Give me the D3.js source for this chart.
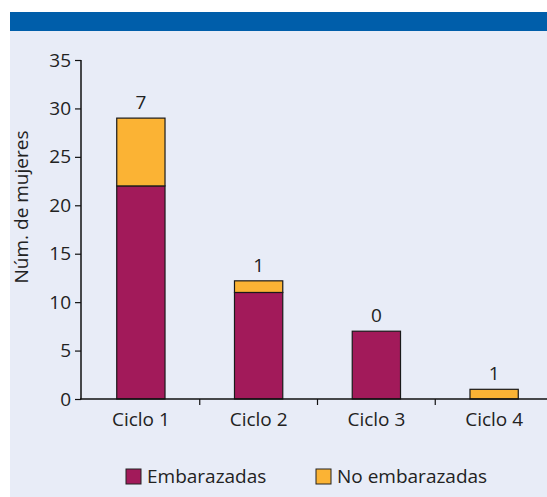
<!DOCTYPE html>
<html>
<head>
<meta charset="utf-8">
<script src="https://cdn.jsdelivr.net/npm/d3@7"></script>
<style>
  body { margin: 0; background: #fff; }
  svg { display: block; font-family: "Open Sans", sans-serif; }
</style>
</head>
<body>
<div id="chart"></div>
<script>
// data
var ciclos = ["Ciclo 1", "Ciclo 2", "Ciclo 3", "Ciclo 4"];
var embarazadas = [22, 11, 7, 0];
var noEmbarazadas = [7, 1.2, 0, 1];
var topLabels = ["7", "1", "0", "1"];
var yTicks = [0, 5, 10, 15, 20, 25, 30, 35];
var seriesNames = ["Embarazadas", "No embarazadas"];

var W = 547, H = 497;
var colors = ["#a21a5a", "#fbb334"];

var svg = d3.select("#chart").append("svg")
    .attr("width", W)
    .attr("height", H);

// background panel + blue band on top
svg.append("rect").attr("x", 10).attr("y", 12).attr("width", W - 10).attr("height", H - 12)
    .attr("fill", "#e8ecf7");
svg.append("rect").attr("x", 10).attr("y", 12).attr("width", W - 10).attr("height", 19)
    .attr("fill", "#005eaa");

var x = d3.scaleBand().domain(ciclos).range([82, 553]).padding(0);
var y = d3.scaleLinear().domain([0, 35]).range([399, 60]);
var barW = x.bandwidth() * 0.41;

var data = ciclos.map(function(c, i) {
  return {ciclo: c, emb: embarazadas[i], no: noEmbarazadas[i], label: topLabels[i]};
});
var stacked = d3.stack().keys(["emb", "no"])(data);

// bars
svg.append("g")
  .selectAll("g")
  .data(stacked)
  .enter().append("g")
    .attr("fill", function(d, i) { return colors[i]; })
  .selectAll("rect")
  .data(function(d) { return d.filter(function(s) { return s[1] - s[0] > 0; }); })
  .enter().append("rect")
    .attr("x", function(d) { return x(d.data.ciclo) + (x.bandwidth() - barW) / 2; })
    .attr("y", function(d) { return y(d[1]); })
    .attr("width", barW)
    .attr("height", function(d) { return y(d[0]) - y(d[1]); })
    .attr("stroke", "#1a1a1a")
    .attr("stroke-width", 1.2);

// labels above the bars
svg.append("g")
  .selectAll("text")
  .data(data)
  .enter().append("text")
    .attr("x", function(d) { return x(d.ciclo) + x.bandwidth() / 2; })
    .attr("y", function(d) { return y(d.emb + d.no) - 9; })
    .attr("text-anchor", "middle")
    .style("font-size", "19px")
    .attr("fill", "#222")
    .text(function(d) { return d.label; });

// y axis
var yAxis = svg.append("g")
    .attr("transform", "translate(81,0)")
    .call(d3.axisLeft(y).tickValues(yTicks).tickSize(6).tickPadding(4));
yAxis.select(".domain").attr("d", "M0," + y(35) + "V" + (y(0) + 0.5)).attr("stroke", "#111").attr("stroke-width", 1.5);
yAxis.selectAll(".tick line").attr("stroke", "#111").attr("stroke-width", 1.2);
yAxis.selectAll("text").style("font-size", "19px").attr("fill", "#222").attr("font-family", "Open Sans");

// x axis: line with ticks between the categories
var xAxis = svg.append("g");
xAxis.append("line")
    .attr("x1", 80).attr("x2", W)
    .attr("y1", 399).attr("y2", 399)
    .attr("stroke", "#111").attr("stroke-width", 1.5);
xAxis.selectAll(".sep")
  .data(ciclos.slice(1))
  .enter().append("line")
    .attr("class", "sep")
    .attr("x1", function(d) { return x(d); })
    .attr("x2", function(d) { return x(d); })
    .attr("y1", 399).attr("y2", 405)
    .attr("stroke", "#111").attr("stroke-width", 1.2);
xAxis.selectAll(".lab")
  .data(ciclos)
  .enter().append("text")
    .attr("class", "lab")
    .attr("x", function(d) { return x(d) + x.bandwidth() / 2; })
    .attr("y", 426)
    .attr("text-anchor", "middle")
    .style("font-size", "19px")
    .attr("fill", "#222")
    .text(function(d) { return d; });

// y axis title
svg.append("text")
    .attr("transform", "translate(28,207) rotate(-90)")
    .attr("text-anchor", "middle")
    .style("font-size", "19px")
    .attr("fill", "#222")
    .text("Núm. de mujeres");

// legend
var legendX = [126, 316];
var legend = svg.selectAll(".legend")
  .data(seriesNames)
  .enter().append("g")
    .attr("class", "legend")
    .attr("transform", function(d, i) { return "translate(" + legendX[i] + ",469)"; });
legend.append("rect")
    .attr("width", 15).attr("height", 15)
    .attr("fill", function(d, i) { return colors[i]; })
    .attr("stroke", "#222").attr("stroke-width", 1);
legend.append("text")
    .attr("x", 21).attr("y", 14)
    .style("font-size", "19px")
    .attr("fill", "#222")
    .text(function(d) { return d; });
</script>
</body>
</html>
